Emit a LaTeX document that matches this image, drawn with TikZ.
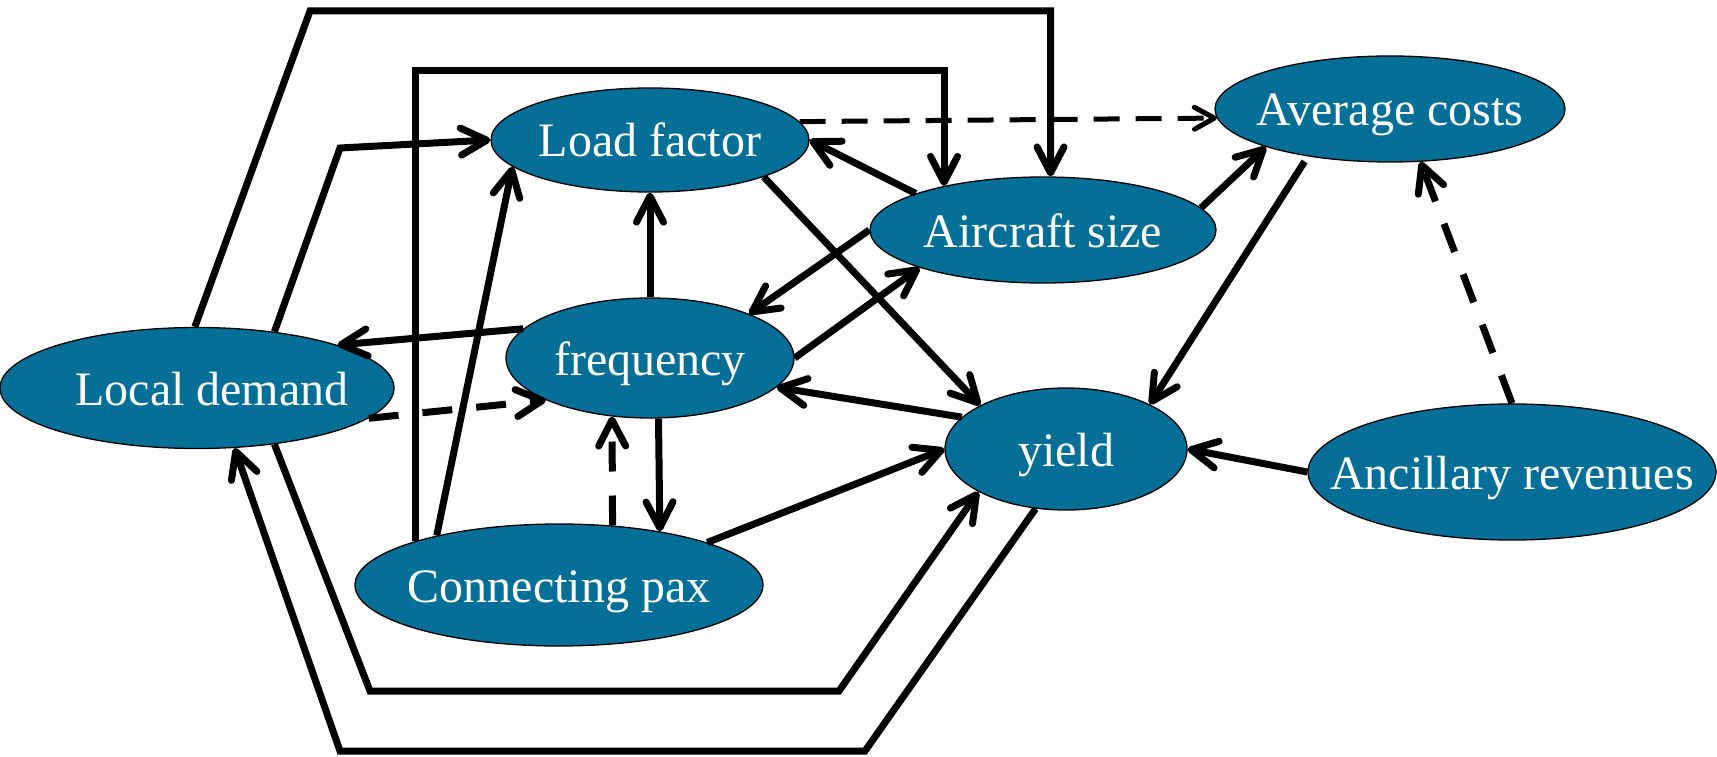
\documentclass[tikz,border=0pt]{standalone}
\usepackage{fontspec}
\setmainfont{Liberation Serif}
\usetikzlibrary{shapes.geometric,arrows.meta}
\definecolor{nodeblue}{RGB}{6,111,151}
\newcommand\celltext[2][0pt]{\makebox[0pt]{\hspace*{#1}#2}}
\begin{document}
\begin{tikzpicture}[x=1pt,y=-1pt,
  bub/.style={ellipse, draw=black, line width=1.3pt, fill=nodeblue, text=white,
    inner sep=0pt, text height=34pt, text depth=0pt,
    font=\fontsize{48}{48}\selectfont},
  conn/.style={line width=7pt, -{Straight Barb[round,length=26pt,width=27pt]}},
  dashlink/.style={conn, dash pattern=on 30pt off 24pt},
  thindash/.style={line width=5pt, dash pattern=on 26pt off 16pt,
    -{Straight Barb[round,length=20pt,width=22pt]}}]
\useasboundingbox (0,0) rectangle (1717,757);

% factors
\node[bub, minimum width=394pt, minimum height=121pt] (ld) at (197,388) {\celltext[30pt]{Local demand}};
\node[bub, minimum width=318pt, minimum height=104pt] (lf) at (650,140) {\celltext{Load factor}};
\node[bub, minimum width=288pt, minimum height=120pt] (fr) at (650,358) {\celltext{frequency}};
\node[bub, minimum width=346pt, minimum height=106pt] (as) at (1043,230) {\celltext{Aircraft size}};
\node[bub, minimum width=350pt, minimum height=106pt] (ac) at (1390,109) {\celltext{Average costs}};
\node[bub, minimum width=242pt, minimum height=122pt] (yd) at (1066,449) {\celltext{yield}};
\node[bub, minimum width=408pt, minimum height=136pt] (ar) at (1512,472) {\celltext{Ancillary revenues}};
\node[bub, minimum width=408pt, minimum height=122pt] (cp) at (559,585) {\celltext{Connecting pax}};

% bend points of the routed links
\coordinate (k1) at (310,11);
\coordinate (t2) at (0,71);
\coordinate (m1) at (340,148);
\coordinate (b1) at (370,691);
\coordinate (b2) at (839,691);
\coordinate (o1) at (865,751);
\coordinate (o2) at (340,751);

% causal links
\draw[conn] (ld.92) -- (k1) -| (as.82);
\draw[conn] (cp.163) -- (cp.163 |- t2) -| (as.156);
\draw[conn] (ld.36) -- (m1) -- (lf.west);
\draw[conn] (cp.158) -- (lf.191);
\draw[conn] (fr.north) -- (lf.south);
\draw[conn] (as.164) -- (lf.east);
\draw[thindash] (lf.7) -- (ac.183);
\draw[conn] (lf.342) -- (yd.153);
\draw[conn] (as.west) -- (fr.24);
\draw[conn] (fr.east) -- (as.197);
\draw[conn] (yd.163) -- (fr.347);
\draw[conn] (fr.167) -- (ld.17);
\draw[dashlink] (ld.350) -- (fr.202);
\draw[dashlink] (cp.48) -- (fr.237);
\draw[conn] (fr.278) -- (cp.28);
\draw[conn] (cp.16) -- (yd.west);
\draw[conn] (ld.324) -- (b1) -- (b2) -- (yd.206);
\draw[conn] (yd.243) -- (o1) -- (o2) -- (ld.302);
\draw[conn] (as.8) -- (ac.197);
\draw[conn, shorten <=6pt] (ac.210) -- (yd.28);
\draw[dashlink] (ar.north) -- (ac.300);
\draw[conn] (ar.west) -- (yd.east);
\end{tikzpicture}
\end{document}
